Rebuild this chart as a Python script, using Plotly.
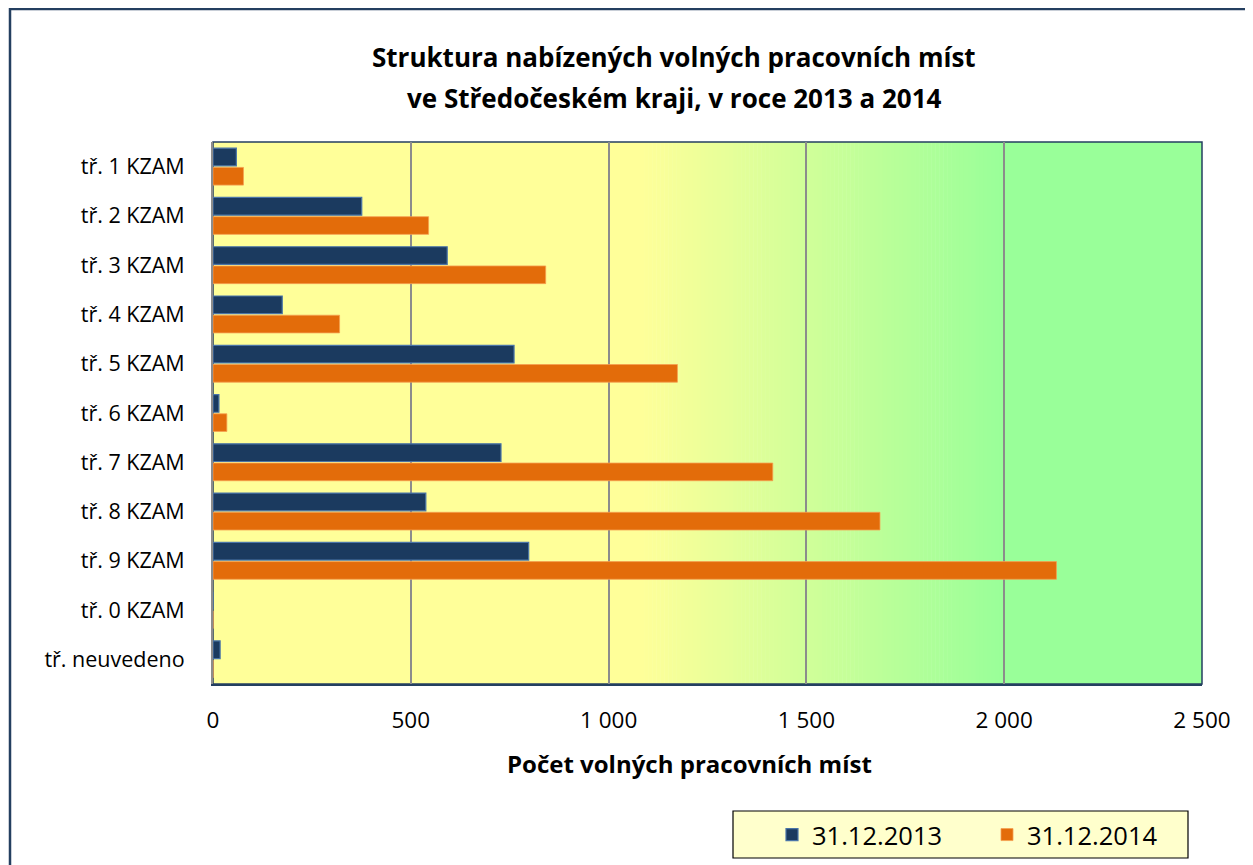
import plotly.graph_objects as go

categories = ["tř. 1 KZAM", "tř. 2 KZAM", "tř. 3 KZAM", "tř. 4 KZAM", "tř. 5 KZAM",
              "tř. 6 KZAM", "tř. 7 KZAM", "tř. 8 KZAM", "tř. 9 KZAM", "tř. 0 KZAM",
              "tř. neuvedeno"]
values_2013 = [59, 376, 592, 175, 761, 15, 728, 538, 798, 0, 18]
values_2014 = [77, 545, 841, 320, 1174, 35, 1415, 1686, 2132, 0, 0]
series_names = ["31.12.2013", "31.12.2014"]
x_ticks = [0, 500, 1000, 1500, 2000, 2500]
x_tick_labels = ["0", "500", "1 000", "1 500", "2 000", "2 500"]
title_lines = ["Struktura nabízených volných pracovních míst",
               "ve Středočeském kraji, v roce 2013 a 2014"]
x_title = "Počet volných pracovních míst"

OFF = 8  # page body margin offset
W, H = 1253 - OFF, 865 - OFF
L, R, T, B = 213 - OFF, 1202 - OFF, 142 - OFF, 684 - OFF
FONT = "Open Sans"


def px(xp):
    return (xp - OFF - L) / (R - L)


def py(yp):
    return (B - (yp - OFF)) / (B - T)


fig = go.Figure()
fig.add_trace(go.Bar(
    y=categories, x=values_2013, name=series_names[0], orientation="h",
    marker=dict(color="#1B3A5F", line=dict(color="#4A74A8", width=1.2)),
))
fig.add_trace(go.Bar(
    y=categories, x=values_2014, name=series_names[1], orientation="h",
    marker=dict(color="#E36C0A", line=dict(color="#F5A050", width=0.8)),
))

shapes = []
# outer chart border
shapes.append(dict(type="rect", xref="paper", yref="paper",
                   x0=px(10), x1=px(1275), y0=py(890), y1=py(9),
                   line=dict(color="#243F60", width=2.5), fillcolor="white", layer="below"))
# plot background gradient (yellow -> green)
y0c, y1c = (255, 255, 153), (153, 255, 153)
g0, g1 = 640, 1004
shapes.append(dict(type="rect", xref="paper", yref="paper", x0=0, x1=px(g0), y0=0, y1=1,
                   fillcolor="rgb(255,255,153)", line=dict(width=0), layer="below"))
shapes.append(dict(type="rect", xref="paper", yref="paper", x0=px(g1), x1=1, y0=0, y1=1,
                   fillcolor="rgb(153,255,153)", line=dict(width=0), layer="below"))
n = 90
for i in range(n):
    a = g0 + (g1 - g0) * i / n
    b = g0 + (g1 - g0) * (i + 1) / n
    t = (i + 0.5) / n
    c = tuple(round(y0c[k] + (y1c[k] - y0c[k]) * t) for k in range(3))
    shapes.append(dict(type="rect", xref="paper", yref="paper", x0=px(a), x1=px(b) + 0.0005,
                       y0=0, y1=1, fillcolor="rgb(%d,%d,%d)" % c, line=dict(width=0), layer="below"))
# plot area border
shapes.append(dict(type="rect", xref="paper", yref="paper", x0=0, x1=1, y0=0, y1=1,
                   line=dict(color="#243F60", width=1.5), fillcolor="rgba(0,0,0,0)", layer="below"))
# legend box
shapes.append(dict(type="rect", xref="paper", yref="paper", x0=px(733), x1=px(1188),
                   y0=py(858), y1=py(811), line=dict(color="black", width=1.2),
                   fillcolor="#FFFFCC", layer="below"))

annotations = [
    dict(text="<b>%s</b>" % title_lines[0], xref="paper", yref="paper", x=px(674), y=py(57),
         xanchor="center", yanchor="middle", showarrow=False,
         font=dict(family=FONT, size=26, color="black")),
    dict(text="<b>%s</b>" % title_lines[1], xref="paper", yref="paper", x=px(674), y=py(98),
         xanchor="center", yanchor="middle", showarrow=False,
         font=dict(family=FONT, size=26, color="black")),
    dict(text="<b>%s</b>" % x_title, xref="paper", yref="paper",
         x=px(689), y=py(763), xanchor="center", yanchor="middle", showarrow=False,
         font=dict(family=FONT, size=24, color="black")),
]

fig.update_layout(
    width=W, height=H,
    margin=dict(l=L, r=W - R, t=T, b=H - B, pad=0, autoexpand=False),
    paper_bgcolor="white", plot_bgcolor="rgba(0,0,0,0)",
    barmode="group", bargap=0.22, bargroupgap=0.08,
    shapes=shapes, annotations=annotations,
    font=dict(family=FONT, color="black"),
    showlegend=True,
    legend=dict(orientation="h", x=px(772), y=py(835), xanchor="left", yanchor="middle",
                bgcolor="rgba(0,0,0,0)", borderwidth=0, font=dict(family=FONT, size=25.5),
                entrywidth=170, entrywidthmode="pixels", traceorder="normal"),
)
fig.update_xaxes(range=[0, 2500], tickvals=x_ticks, ticktext=x_tick_labels,
                 showgrid=True, gridcolor="#8C8C8C", gridwidth=1.5,
                 showline=True, linecolor="#243F60", linewidth=2,
                 ticks="", tickfont=dict(family=FONT, size=22.5), ticklabelstandoff=15,
                 zeroline=False, fixedrange=True)
fig.update_yaxes(autorange="reversed", showgrid=False, showline=True, linecolor="#8C8C8C",
                 linewidth=2, ticks="", tickfont=dict(family=FONT, size=21.5),
                 ticklabelstandoff=22, fixedrange=True)

fig.write_html("out.html")
